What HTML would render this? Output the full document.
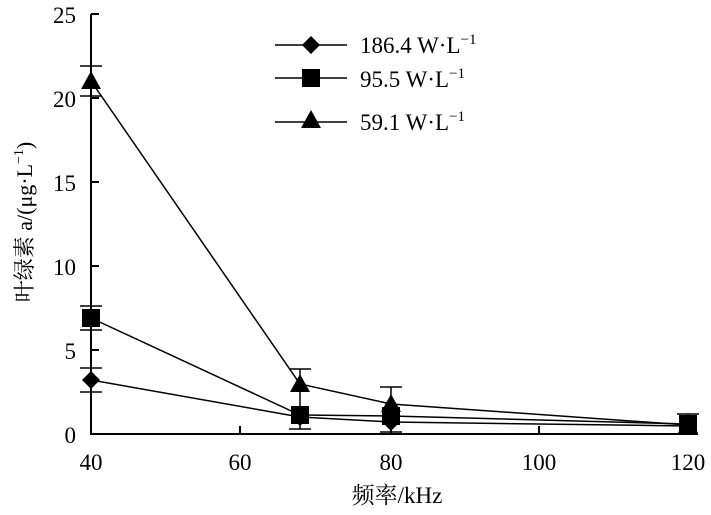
<!DOCTYPE html>
<html><head><meta charset="utf-8"><style>body{margin:0;background:#fff}svg{display:block}</style></head><body>
<svg width="711" height="515" viewBox="0 0 711 515" xmlns="http://www.w3.org/2000/svg" font-family="'Liberation Serif','Noto Serif CJK SC',serif" fill="#000">
<defs>
<path id="d" d="M0,-9 L9,0 L0,9 L-9,0Z"/>
<rect id="s" x="-9" y="-9" width="18" height="18"/>
<path id="t" d="M0,-10 L10,8 L-10,8Z"/>
</defs>
<g stroke="#000" stroke-width="2" fill="none">
<path d="M91,14 V434 H698"/>
<path d="M91,14 H99 M91,98 H99 M91,182 H99 M91,266 H99 M91,350 H99"/>
<path d="M240,434 V426 M391,434 V426 M539,434 V426 M688,434 V426"/>
</g>
<g stroke="#000" stroke-width="1.5" fill="none">
<polyline points="91,81 300,384 391,404 688,425"/>
<polyline points="91,318 300,415 391,416 688,424"/>
<polyline points="91,380 300,417 391,422 688,426"/>
<path d="M80,66 H102 M91,66 V96 M80,96 H102"/>
<path d="M80,306 H102 M91,306 V330 M80,330 H102"/>
<path d="M80,368 H102 M91,368 V392 M80,392 H102"/>
<path d="M289,369 H311 M300,369 V429 M289,429 H311"/>
<path d="M380,387 H402 M391,387 V432 M380,432 H402"/>
<path d="M677,414 H699 M688,414 V432"/>
</g>
<g>
<use href="#t" x="91" y="81"/><use href="#t" x="300" y="384"/><use href="#t" x="391" y="404"/><use href="#t" x="688" y="425"/>
<use href="#s" x="91" y="318"/><use href="#s" x="300" y="415"/><use href="#s" x="391" y="416"/><use href="#s" x="688" y="424"/>
<use href="#d" x="91" y="380"/><use href="#d" x="300" y="417"/><use href="#d" x="391" y="422"/><use href="#d" x="688" y="426"/>
</g>
<g font-size="23" text-anchor="end">
<text x="76" y="23">25</text><text x="76" y="107">20</text><text x="76" y="191">15</text><text x="76" y="275">10</text><text x="76" y="359">5</text><text x="76" y="443">0</text>
</g>
<g font-size="23" text-anchor="middle">
<text x="91" y="470">40</text><text x="240" y="470">60</text><text x="391" y="470">80</text><text x="539" y="470">100</text><text x="688" y="470">120</text>
<text x="397" y="503">频率/kHz</text>
</g>
<text font-size="22" text-anchor="middle" transform="translate(32,222) rotate(-90)">叶绿素 a/(μg·L<tspan font-size="14" dy="-9">−1</tspan><tspan dy="9">)</tspan></text>
<g stroke="#000" stroke-width="1.5"><path d="M275,45 H347 M275,78 H347 M275,122 H347"/></g>
<use href="#d" x="311" y="45"/><use href="#s" x="311" y="78"/><use href="#t" x="311" y="120"/>
<g font-size="23">
<text x="360" y="53">186.4 W·L<tspan font-size="15" dy="-9">−1</tspan></text>
<text x="360" y="87">95.5 W·L<tspan font-size="15" dy="-9">−1</tspan></text>
<text x="360" y="130">59.1 W·L<tspan font-size="15" dy="-9">−1</tspan></text>
</g>
</svg>
</body></html>
